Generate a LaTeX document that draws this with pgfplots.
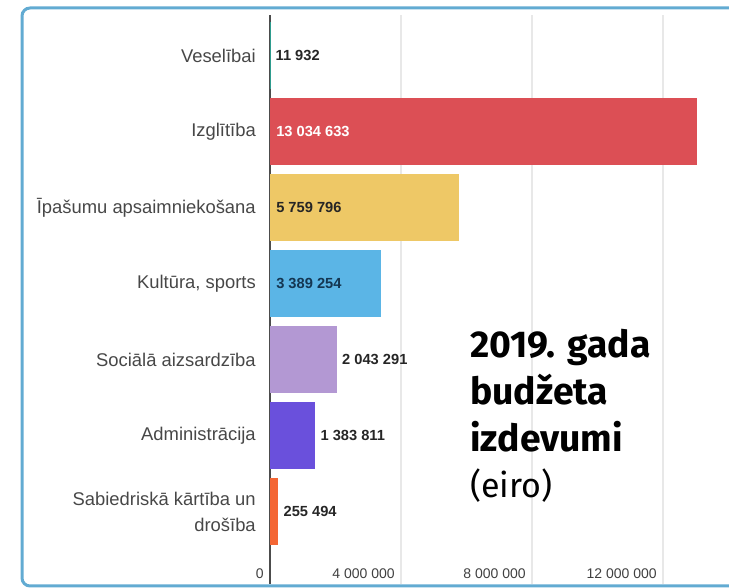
\documentclass[border=0pt]{standalone}
\usepackage{pgfplots}
\pgfplotsset{compat=1.18}
\usepackage{fontspec}
\setmainfont{Liberation Sans}
\newfontfamily\titlefont{Fira Sans}
\definecolor{cframe}{HTML}{62ABD2}
\definecolor{cred}{HTML}{DC4F55}
\definecolor{cyellow}{HTML}{EEC866}
\definecolor{cblue}{HTML}{5BB5E6}
\definecolor{clav}{HTML}{B398D3}
\definecolor{cpurple}{HTML}{6A50DC}
\definecolor{corange}{HTML}{F46634}
\definecolor{cteal}{HTML}{2E9C8E}
\definecolor{cnavy}{HTML}{143652}
\begin{document}
\begin{tikzpicture}[x=0.75pt,y=0.75pt]
\useasboundingbox (0,0) rectangle (729,588);
\begin{scope}
\clip (0,0) rectangle (729,588);
\draw[cframe, line width=2.25pt, rounded corners=6pt] (22,2) rectangle (770,580);
\end{scope}
\coordinate (O) at (270,4);
\begin{axis}[
  at={(O)}, anchor=south west,
  scale only axis, width=334.05pt, height=426.75pt,
  xmin=0, xmax=13.6e6, ymin=-0.954, ymax=6.533,
  xbar, bar width=0.88,
  axis line style={draw=none}, major tick length=0pt,
  scaled x ticks=false,
  xtick={4e6,8e6,12e6}, xticklabels={4 000 000, 8 000 000, 12 000 000},
  extra x ticks={0}, extra x tick labels={0},
  extra x tick style={grid style={color=black!70, line width=1.1pt}},
  xmajorgrids, grid style={color=black!9, line width=0.9pt},
  xticklabel style={anchor=base east, inner sep=0pt, xshift=-4.5pt, yshift=4pt,
    font=\fontsize{10.5}{12}\selectfont, text=black!75},
  ytick={0,...,6},
  yticklabels={{Sabiedriskā kārtība un\\drošība}, Administrācija, Sociālā aizsardzība, {Kultūra, sports}, Īpašumu apsaimniekošana, Izglītība, Veselībai},
  yticklabel style={align=right, anchor=east, inner sep=0pt, xshift=-10.5pt,
    font=\fontsize{13.8}{19.5}\selectfont, text=black!72},
  every axis plot/.append style={bar shift=0pt, draw=none},
  nodes near coords style={anchor=west, inner sep=0pt, xshift=3.75pt,
    font=\bfseries\fontsize{11}{12}\selectfont, text=black!85},
  clip=false,
]
\addplot[fill=cteal, point meta=explicit symbolic, nodes near coords] coordinates {(11932,6) [11 932]};
\addplot[fill=cred] coordinates {(13034633,5)};
\addplot[fill=cyellow] coordinates {(5759796,4)};
\addplot[fill=cblue] coordinates {(3389254,3)};
\addplot[fill=clav, point meta=explicit symbolic, nodes near coords] coordinates {(2043291,2) [2 043 291]};
\addplot[fill=cpurple, point meta=explicit symbolic, nodes near coords] coordinates {(1383811,1) [1 383 811]};
\addplot[fill=corange, point meta=explicit symbolic, nodes near coords] coordinates {(255494,0) [255 494]};
\node[anchor=west, inner sep=0pt, xshift=4.5pt, font=\bfseries\fontsize{11}{12}\selectfont, text=white] at (axis cs:0,5) {13 034 633};
\node[anchor=west, inner sep=0pt, xshift=4.5pt, font=\bfseries\fontsize{11}{12}\selectfont, text=black!85] at (axis cs:0,4) {5 759 796};
\node[anchor=west, inner sep=0pt, xshift=4.5pt, font=\bfseries\fontsize{11}{12}\selectfont, text=cnavy] at (axis cs:0,3) {3 389 254};
\end{axis}
\node[anchor=base west, inner sep=0pt, font=\titlefont\bfseries\fontsize{28}{35}\selectfont] at (470,230) {2019. gada};
\node[anchor=base west, inner sep=0pt, font=\titlefont\bfseries\fontsize{28}{35}\selectfont] at (470,183) {budžeta};
\node[anchor=base west, inner sep=0pt, font=\titlefont\bfseries\fontsize{28}{35}\selectfont] at (470,136) {izdevumi};
\node[anchor=base west, inner sep=0pt, font=\titlefont\fontsize{25.5}{35}\selectfont] at (470,90) {(eiro)};
\end{tikzpicture}
\end{document}
